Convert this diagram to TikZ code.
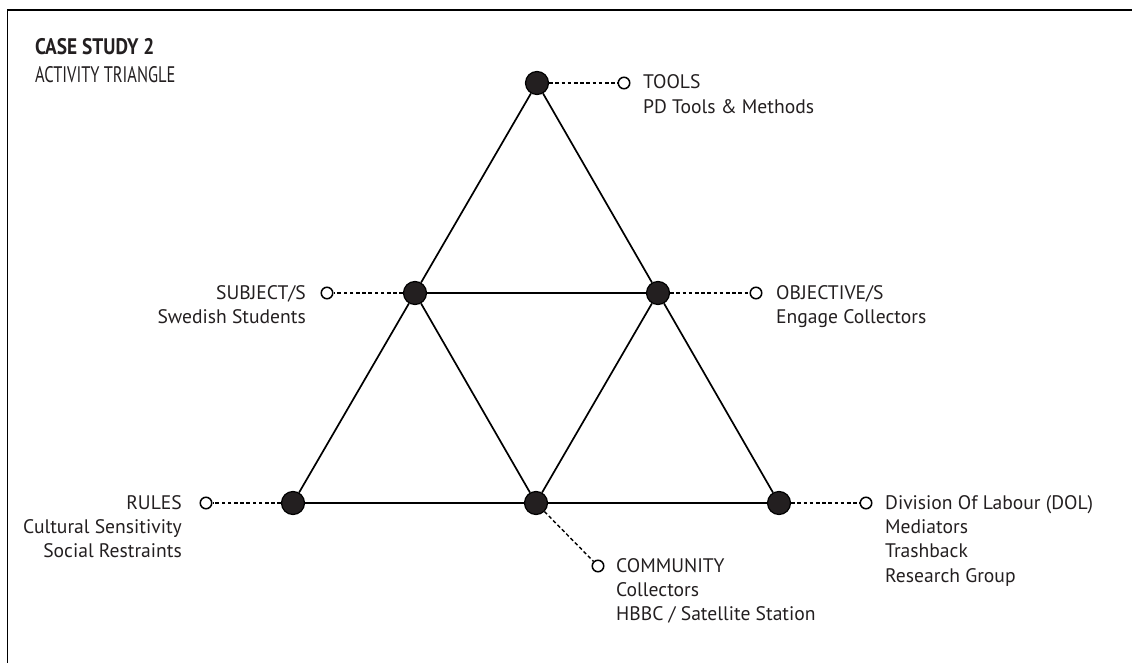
\documentclass[tikz,border=0pt]{standalone}
\usepackage{fontspec}
\setmainfont{PT Sans}
\newfontfamily\titlefont[FakeStretch=0.73]{PT Sans}
\newfontfamily\titleboldfont[FakeStretch=0.86]{PT Sans Bold}
\definecolor{ink}{HTML}{231F20}
\newcommand\lblfont{\fontsize{19.6}{24.4}\selectfont}
\newcommand\lblstack[2]{\begin{tabular}[t]{@{}#1@{}}#2\end{tabular}}
\tikzset{
  dot/.style={circle, draw=black, fill=ink, line width=1.2pt, minimum size=23pt, inner sep=0pt},
  ring/.style={circle, draw=black, fill=white, line width=1.5pt, minimum size=11.5pt, inner sep=0pt},
  edge/.style={draw=black, line width=1.7pt},
  leader/.style={draw=black, line width=1.4pt, dash pattern=on 3.6pt off 2.6pt},
  lbl/.style={font=\lblfont, text=ink, inner sep=0pt},
  ttl/.style={text=ink, inner sep=0pt, anchor=base west}
}
\begin{document}
\begin{tikzpicture}[x=1pt, y=-1pt]
\useasboundingbox (0,0) rectangle (1132,663);
% frame
\draw[line width=1.6pt] (7.5,663) -- (7.5,10) -- (1132,10);
% title
\node[ttl, font=\titleboldfont\fontsize{22.5}{28}\selectfont] (title) at (35,55) {CASE STUDY 2};
\node[ttl, font=\titlefont\fontsize{22.5}{28}\selectfont] (subtitle) at (35,83) {ACTIVITY TRIANGLE};
% vertices of the activity triangle
\node[dot] (top) at (537,83) {};
\node[dot] (ml)  at (415,293) {};
\node[dot] (mr)  at (658,293) {};
\node[dot] (bl)  at (293,503) {};
\node[dot] (bm)  at (536,503) {};
\node[dot] (br)  at (779,503) {};
% triangle edges
\path[edge] (top) -- (ml);
\path[edge] (top) -- (mr);
\path[edge] (ml) -- (mr);
\path[edge] (ml) -- (bl);
\path[edge] (ml) -- (bm);
\path[edge] (mr) -- (bm);
\path[edge] (mr) -- (br);
\path[edge] (bl) -- (bm);
\path[edge] (bm) -- (br);
% label markers
\node[ring] (toolsR) at (624,83) {};
\node[ring] (subjR)  at (327,293) {};
\node[ring] (objR)   at (756,293) {};
\node[ring] (rulesR) at (206,503) {};
\node[ring] (commR)  at (598,566) {};
\node[ring] (dolR)   at (866,503) {};
% leaders
\path[leader] (top) -- (toolsR);
\path[leader] (ml) -- (subjR);
\path[leader] (mr) -- (objR);
\path[leader] (bl) -- (rulesR);
\path[leader] (bm) -- (commR);
\path[leader] (br) -- (dolR);
% labels
\node[lbl, anchor=base west] (toolsT) at (643,89) {\lblstack{l}{TOOLS\\PD Tools \& Methods}};
\node[lbl, anchor=base east] (subjT) at (306,299) {\lblstack{r}{SUBJECT/S\\Swedish Students}};
\node[lbl, anchor=base west] (objT) at (776,299) {\lblstack{l}{OBJECTIVE/S\\Engage Collectors}};
\node[lbl, anchor=base east] (rulesT) at (182,509) {\lblstack{r}{RULES\\Cultural Sensitivity\\Social Restraints}};
\node[lbl, anchor=base west] (commT) at (616,572) {\lblstack{l}{COMMUNITY\\Collectors\\HBBC / Satellite Station}};
\node[lbl, anchor=base west] (dolT) at (885,509) {\lblstack{l}{Division Of Labour (DOL)\\Mediators\\Trashback\\Research Group}};
\end{tikzpicture}
\end{document}
